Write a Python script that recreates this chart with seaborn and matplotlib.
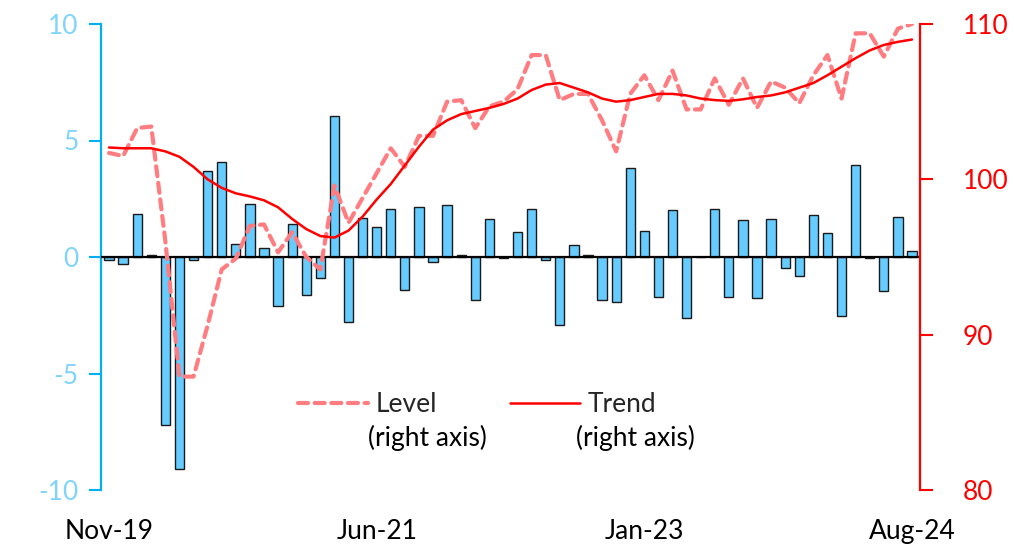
import numpy as np
import pandas as pd
import matplotlib
matplotlib.use("Agg")
import matplotlib.pyplot as plt
import seaborn as sns
from matplotlib.lines import Line2D

# ---- data ----
months = pd.date_range("2019-11-01", "2024-08-01", freq="MS")
tick_labels = ["Nov-19", "Jun-21", "Jan-23", "Aug-24"]
tick_pos = [0, 19, 38, 57]

monthly_change = [
    -0.15, -0.3, 1.86, 0.07, -7.2, -9.08, -0.14, 3.7, 4.09, 0.54,
    2.27, 0.4, -2.1, 1.42, -1.63, -0.92, 6.06, -2.79, 1.66, 1.29,
    2.05, -1.4, 2.16, -0.2, 2.23, 0.07, -1.83, 1.63, -0.05, 1.09,
    2.05, -0.13, -2.9, 0.53, 0.1, -1.85, -1.92, 3.82, 1.13, -1.7,
    2.03, -2.6, -0.02, 2.05, -1.73, 1.59, -1.76, 1.62, -0.47, -0.83,
    1.79, 1.04, -2.53, 3.93, -0.03, -1.45, 1.7, 0.24,
]

level = [
    101.7, 101.5, 103.3, 103.4, 96.0, 87.3, 87.3, 90.6, 94.2, 94.9,
    97.0, 97.1, 95.3, 96.6, 95.0, 94.2, 99.6, 97.2, 98.8, 100.4,
    102.0, 100.8, 102.8, 102.8, 105.0, 105.1, 103.3, 104.7, 105.0, 105.8,
    108.0, 108.0, 105.1, 105.5, 105.5, 103.8, 101.8, 105.5, 106.7, 105.1,
    107.0, 104.5, 104.5, 106.5, 104.8, 106.5, 104.6, 106.3, 105.9, 104.9,
    106.7, 108.0, 105.2, 109.4, 109.4, 107.9, 109.7, 110.0,
]

trend = [
    102.05, 102.0, 102.0, 102.0, 101.8, 101.45, 100.8, 100.0, 99.45, 99.1,
    98.9, 98.65, 98.2, 97.45, 96.8, 96.35, 96.25, 96.7, 97.6, 98.7,
    99.7, 100.9, 102.1, 103.2, 103.8, 104.2, 104.4, 104.6, 104.85, 105.2,
    105.75, 106.1, 106.2, 105.9, 105.6, 105.2, 105.0, 105.1, 105.3, 105.5,
    105.5, 105.4, 105.2, 105.1, 105.05, 105.15, 105.3, 105.4, 105.6, 105.9,
    106.2, 106.7, 107.25, 107.8, 108.3, 108.65, 108.85, 109.0,
]

df = pd.DataFrame({
    "idx": np.arange(len(months)),
    "change": monthly_change,
    "level": level,
    "trend": trend,
})

# ---- style ----
sns.set_style("white")
plt.rcParams["font.family"] = ["Lato", "DejaVu Sans"]

BAR = "#66CCFF"
LEFT_SPINE = "#00B0F0"
LEFT_TXT = "#80D4FA"
RED = "#FF0000"
PINK = "#FF7C80"

fig = plt.figure(figsize=(10.14, 5.44), dpi=100)
ax = fig.add_axes([101 / 1014, 1 - 490 / 544, (920 - 101) / 1014, (490 - 24) / 544])

sns.barplot(data=df, x="idx", y="change", color=BAR, saturation=1,
            edgecolor="#1a1a1a", linewidth=1.0, width=0.66, ax=ax)
ax.axhline(0, color="black", linewidth=1.6, zorder=3)

ax.set_xlim(-0.57, 57.57)
ax.set_ylim(-10, 10)
ax.set_yticks([-10, -5, 0, 5, 10])
ax.set_yticklabels(["-10", "-5", "0", "5", "10"])
ax.set_xticks(tick_pos)
ax.set_xticklabels(tick_labels)
ax.set_xlabel("")
ax.set_ylabel("")
ax.tick_params(axis="x", length=0, pad=21, labelsize=19, colors="black")
ax.tick_params(axis="y", direction="out", length=9, width=1.5, color=LEFT_SPINE,
               labelcolor=LEFT_TXT, labelsize=19, pad=7, left=True)
for s in ["top", "bottom", "right"]:
    ax.spines[s].set_visible(False)
ax.spines["left"].set_color(LEFT_SPINE)
ax.spines["left"].set_linewidth(1.6)

ax2 = ax.twinx()
sns.lineplot(data=df, x="idx", y="level", color=PINK, linewidth=3.0,
             linestyle="--", ax=ax2)
lvl_line = ax2.lines[-1]
lvl_line.set_dashes((2.4, 1.6))
lvl_line.set_dash_capstyle("round")
sns.lineplot(data=df, x="idx", y="trend", color=RED, linewidth=1.8, ax=ax2)

ax2.set_xlim(-0.57, 57.57)
ax2.set_ylim(80, 110)
ax2.set_yticks([80, 90, 100, 110])
ax2.set_ylabel("")
ax2.set_xlabel("")
ax2.tick_params(axis="y", direction="out", length=9, width=1.5, color=RED,
                labelcolor=RED, labelsize=19, pad=22, right=True)
for s in ["top", "bottom", "left"]:
    ax2.spines[s].set_visible(False)
ax2.spines["right"].set_color(RED)
ax2.spines["right"].set_linewidth(1.6)

h_level = Line2D([], [], color=PINK, linewidth=3.0, dashes=(2.4, 1.6),
                 dash_capstyle="round")
h_trend = Line2D([], [], color=RED, linewidth=1.8)
leg = ax2.legend([h_level, h_trend], ["Level", "Trend"], ncol=2, frameon=False,
                 fontsize=19, handlelength=2.65, handletextpad=0.3,
                 columnspacing=2.75, loc="center",
                 bbox_to_anchor=((477 - 101) / 819, (490 - 405) / 466))
ax2.text((427 - 101) / 819, (490 - 438) / 466, "(right axis)", transform=ax2.transAxes,
         ha="center", va="center", fontsize=19, color="black")
ax2.text((635 - 101) / 819, (490 - 438) / 466, "(right axis)", transform=ax2.transAxes,
         ha="center", va="center", fontsize=19, color="black")

fig.savefig("out.png", dpi=100)
